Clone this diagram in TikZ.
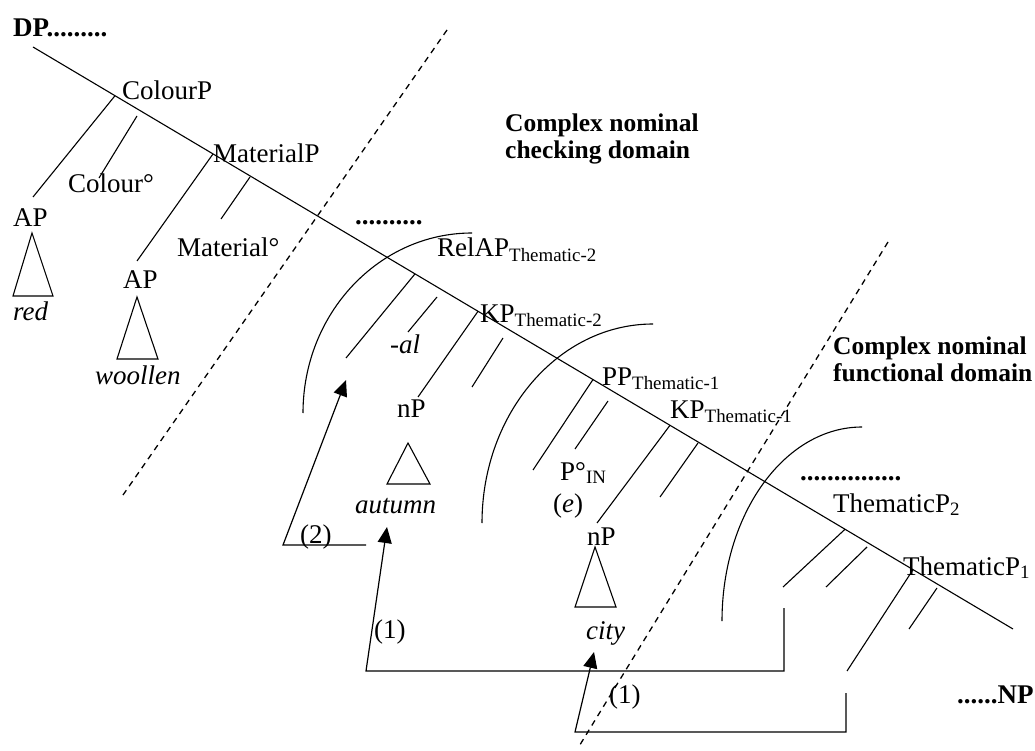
\documentclass[tikz,border=0pt]{standalone}
\usepackage{fontspec}
\setmainfont{Liberation Serif}
\usetikzlibrary{arrows.meta}
\begin{document}
\begin{tikzpicture}[x=1pt,y=-1pt,
    lab/.style={inner sep=0pt,anchor=base west,font=\fontsize{27}{30}\selectfont},
    blab/.style={lab,font=\fontsize{27}{30}\selectfont\bfseries},
    dom/.style={inner sep=0pt,anchor=north west,align=left,font=\fontsize{25.5}{27}\selectfont\bfseries},
    ln/.style={line width=1.1pt},
    bord/.style={line width=1.3pt,dash pattern=on 6pt off 5pt},
    mv/.style={line width=1.2pt,-{Triangle[length=16pt,width=14pt]}}]
    \useasboundingbox(0,0)rectangle(1035,751);
    \coordinate(s1)at(33,47);\coordinate(s2)at(1013,629);
    \draw[ln](s1)--(s2)coordinate[pos=.0837](colj)coordinate[pos=.1837](matj)
        coordinate[pos=.3898](relj)coordinate[pos=.4541](kpbj)coordinate[pos=.5714](ppj)
        coordinate[pos=.65](kpaj)coordinate[pos=.8286](thbj)coordinate[pos=.898](thaj);
    \node[blab](dp)at(13,37){DP.........};
    \node[lab](col)at(122,100){ColourP};
    \node[lab](colhd)at(68,193){Colour°};
    \node[lab](apr)at(13,227){AP};
    \node[lab](red)at(13,320){\textit{red}};
    \node[lab](mat)at(213,163){MaterialP};
    \node[lab](mathd)at(177,257){Material°};
    \node[lab](apw)at(123,288){AP};
    \node[lab](wool)at(95,384){\textit{woollen}};
    \node[dom](chk)at(505,114){Complex nominal\\checking domain};
    \node[blab](dota)at(355,225){..........};
    \node[lab](rel)at(437,257){RelAP\textsubscript{Thematic-2}};
    \node[lab](al)at(390,353){\textit{-al}};
    \node[lab](kpb)at(480,322){KP\textsubscript{Thematic-2}};
    \node[lab](npa)at(397,417){nP};
    \node[lab](aut)at(355,513){\textit{autumn}};
    \node[lab](pp)at(602,385){PP\textsubscript{Thematic-1}};
    \node[lab](pin)at(560,480){P°\textsubscript{IN}};
    \node[lab](e)at(553,512){(\textit{e})};
    \node[lab](kpa)at(670,418){KP\textsubscript{Thematic-1}};
    \node[lab](npb)at(587,545){nP};
    \node[lab](city)at(586,639){\textit{city}};
    \node[dom](fun)at(833,337){Complex nominal\\functional domain};
    \node[blab](dotb)at(800,480){...............};
    \node[lab](thb)at(833,512){ThematicP\textsubscript{2}};
    \node[lab](tha)at(903,575){ThematicP\textsubscript{1}};
    \node[blab](np)at(957,703){......NP};
    \node[lab](two)at(300,543){(2)};
    \node[lab](onea)at(374,638){(1)};
    \node[lab](oneb)at(609,703){(1)};
    \draw[ln](colj)--(33,197);
    \draw[ln](matj)--(137,261);
    \draw[ln](relj)--(346,358);
    \draw[ln](kpbj)--(418,397);
    \draw[ln](ppj)--(533,470);
    \draw[ln](kpaj)--(597,523);
    \draw[ln](thbj)--(783,587);
    \draw[ln](thaj)--(847,671);
    \foreach \xa/\ya/\xb/\yb in {137/116/99/178,250/177/221/219,437/297/408/332,503/338/472/387,
        608/401/575/449,698/443/660/497,867/547/826/587,937/588/909/629}
        \draw[ln](\xa,\ya)--(\xb,\yb);
    \draw[ln](32,233)--(13,296)--(53,296)--cycle;
    \draw[ln](137,297)--(117,359)--(158,359)--cycle;
    \draw[ln](408,443)--(387,484)--(430,484)--cycle;
    \draw[ln](595,547)--(575,607)--(616,607)--cycle;
    \draw[ln](472,233)..controls(378.7,233)and(303,313.6)..(303,413);
    \draw[ln](653,324)..controls(558.6,324)and(482,413.1)..(482,523);
    \draw[ln](862,427)..controls(784.7,427)and(722,513.9)..(722,621);
    \draw[bord](447,30)--(123,495);
    \draw[bord](888,242)--(578,748);
    \draw[mv](366,545)--(283,545)--(346,380);
    \draw[mv](784,608)--(784,671)--(366,671)--(387,527);
    \draw[mv](846,693)--(846,732)--(575,732)--(594,652);
\end{tikzpicture}
\end{document}
